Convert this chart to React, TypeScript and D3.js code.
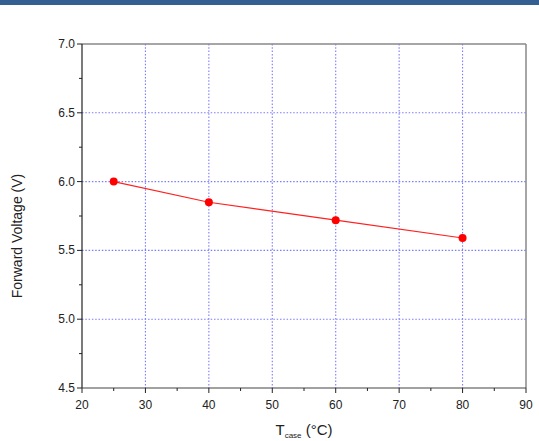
import React from "react";
import * as d3 from "d3";

const tcase = [25, 40, 60, 80];
const voltage = [6.0, 5.85, 5.72, 5.59];
const xTicks = [20, 30, 40, 50, 60, 70, 80, 90];
const yTicks = [4.5, 5.0, 5.5, 6.0, 6.5, 7.0];
const xMinor = [25, 35, 45, 55, 65, 75, 85];
const yMinor = [4.75, 5.25, 5.75, 6.25, 6.75];

export default function App() {
  const W = 539, H = 441;
  const left = 82, right = 526, top = 44, bottom = 388;
  const x = d3.scaleLinear().domain([20, 90]).range([left, right]);
  const y = d3.scaleLinear().domain([4.5, 7.0]).range([bottom, top]);
  const line = d3.line<number>().x((_, i) => x(tcase[i])).y((d) => y(d));
  const font = "'Liberation Sans', Arial, sans-serif";
  const grid = "#7b7bff";
  return (
    <svg width={W} height={H} style={{ position: "absolute", left: 0, top: 0, background: "#fff" }}>
      <rect x={0} y={0} width={W} height={5} fill="#335f91" />
      {xTicks.filter((t) => t > 20 && t < 90).map((t) => (
        <line key={"gx" + t} x1={x(t)} x2={x(t)} y1={top} y2={bottom} stroke={grid} strokeWidth={1.1} strokeDasharray="1.5,1.8" />
      ))}
      {yTicks.filter((t) => t > 4.5 && t < 7).map((t) => (
        <line key={"gy" + t} x1={left} x2={right} y1={y(t)} y2={y(t)} stroke={grid} strokeWidth={1.1} strokeDasharray="1.5,1.8" />
      ))}
      <line x1={left} x2={right} y1={top} y2={top} stroke="#888" strokeWidth={1.5} />
      <line x1={right} x2={right} y1={top} y2={bottom} stroke="#888" strokeWidth={1.5} />
      <line x1={left} x2={left} y1={top} y2={bottom} stroke="#222" strokeWidth={1.2} />
      <line x1={left} x2={right} y1={bottom} y2={bottom} stroke="#444" strokeWidth={1.2} />
      {xTicks.map((t) => (
        <g key={"xt" + t}>
          <line x1={x(t)} x2={x(t)} y1={bottom} y2={bottom + 5} stroke="#222" />
          <text x={x(t)} y={409} textAnchor="middle" fontFamily={font} fontSize={12} fill="#222">{t}</text>
        </g>
      ))}
      {xMinor.map((t) => (
        <line key={"xm" + t} x1={x(t)} x2={x(t)} y1={bottom} y2={bottom + 3} stroke="#222" />
      ))}
      {yTicks.map((t) => (
        <g key={"yt" + t}>
          <line x1={left - 5} x2={left} y1={y(t)} y2={y(t)} stroke="#222" />
          <text x={left - 7} y={y(t) + 4} textAnchor="end" fontFamily={font} fontSize={12} fill="#222">{t.toFixed(1)}</text>
        </g>
      ))}
      {yMinor.map((t) => (
        <line key={"ym" + t} x1={left - 3} x2={left} y1={y(t)} y2={y(t)} stroke="#222" />
      ))}
      <path d={line(voltage) || ""} fill="none" stroke="#ff2020" strokeWidth={1.2} />
      {voltage.map((v, i) => (
        <circle key={"p" + i} cx={x(tcase[i])} cy={y(v)} r={4} fill="#ff0000" />
      ))}
      <text transform={`translate(22,236) rotate(-90)`} textAnchor="middle" fontFamily={font} fontSize={14} fill="#222">Forward Voltage (V)</text>
      <text x={304} y={435} textAnchor="middle" fontFamily={font} fontSize={15} fill="#222">
        T<tspan fontSize={8} dy={3}>case</tspan><tspan dy={-3}> (°C)</tspan>
      </text>
    </svg>
  );
}
